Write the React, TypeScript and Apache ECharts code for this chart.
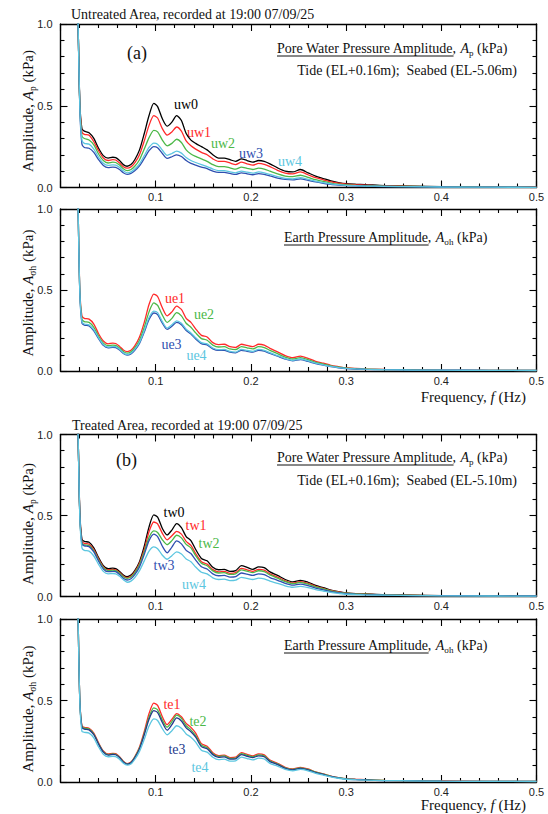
import React, { useEffect, useRef } from "react";
import * as echarts from "echarts";

// ---- data ----
const FREQ = [0.0175, 0.0185, 0.0203, 0.0225, 0.025, 0.03, 0.035, 0.04, 0.045, 0.05, 0.055, 0.058, 0.062, 0.066, 0.07, 0.074, 0.078, 0.083, 0.088, 0.093, 0.098, 0.102, 0.107, 0.112, 0.117, 0.122, 0.127, 0.132, 0.137, 0.142, 0.148, 0.154, 0.16, 0.166, 0.172, 0.178, 0.184, 0.19, 0.196, 0.202, 0.208, 0.214, 0.22, 0.228, 0.236, 0.244, 0.252, 0.26, 0.268, 0.276, 0.284, 0.292, 0.3, 0.31, 0.32, 0.34, 0.37, 0.4, 0.45, 0.5];

// Panel (a) pore water pressure, untreated
const UW0 = [1.3, 1.0, 0.52, 0.36, 0.345, 0.335, 0.3, 0.24, 0.195, 0.18, 0.185, 0.183, 0.165, 0.14, 0.13, 0.14, 0.17, 0.23, 0.33, 0.44, 0.515, 0.495, 0.42, 0.375, 0.4, 0.44, 0.41, 0.33, 0.29, 0.27, 0.25, 0.23, 0.2, 0.18, 0.18, 0.17, 0.16, 0.175, 0.165, 0.155, 0.165, 0.16, 0.145, 0.12, 0.1, 0.095, 0.11, 0.09, 0.07, 0.055, 0.04, 0.03, 0.023, 0.02, 0.018, 0.012, 0.008, 0.005, 0.003, 0.002];
const UW1 = [1.3, 1.0, 0.51, 0.34, 0.325, 0.32, 0.28, 0.225, 0.18, 0.165, 0.17, 0.168, 0.15, 0.127, 0.118, 0.126, 0.15, 0.2, 0.285, 0.38, 0.44, 0.425, 0.36, 0.32, 0.34, 0.37, 0.345, 0.285, 0.255, 0.235, 0.215, 0.2, 0.175, 0.16, 0.16, 0.15, 0.14, 0.155, 0.145, 0.137, 0.147, 0.142, 0.128, 0.105, 0.088, 0.083, 0.095, 0.078, 0.06, 0.047, 0.034, 0.026, 0.02, 0.017, 0.015, 0.01, 0.007, 0.004, 0.003, 0.002];
const UW2 = [1.3, 1.0, 0.5, 0.315, 0.3, 0.29, 0.26, 0.205, 0.165, 0.15, 0.155, 0.153, 0.137, 0.115, 0.103, 0.11, 0.13, 0.17, 0.235, 0.305, 0.35, 0.34, 0.29, 0.255, 0.27, 0.295, 0.275, 0.23, 0.205, 0.19, 0.175, 0.16, 0.14, 0.128, 0.128, 0.12, 0.112, 0.125, 0.117, 0.11, 0.118, 0.113, 0.1, 0.083, 0.07, 0.066, 0.075, 0.062, 0.048, 0.037, 0.027, 0.02, 0.016, 0.013, 0.011, 0.008, 0.006, 0.004, 0.002, 0.001];
const UW3 = [1.3, 1.0, 0.48, 0.265, 0.245, 0.24, 0.215, 0.17, 0.135, 0.122, 0.125, 0.123, 0.11, 0.09, 0.08, 0.086, 0.102, 0.132, 0.178, 0.225, 0.25, 0.243, 0.208, 0.178, 0.188, 0.2, 0.19, 0.165, 0.148, 0.137, 0.125, 0.115, 0.1, 0.092, 0.092, 0.086, 0.08, 0.09, 0.084, 0.078, 0.085, 0.08, 0.071, 0.058, 0.05, 0.047, 0.053, 0.044, 0.034, 0.026, 0.019, 0.015, 0.012, 0.01, 0.008, 0.006, 0.004, 0.003, 0.002, 0.001];
const UW4 = [1.3, 1.0, 0.49, 0.29, 0.27, 0.265, 0.235, 0.185, 0.148, 0.135, 0.138, 0.137, 0.123, 0.102, 0.09, 0.096, 0.113, 0.145, 0.195, 0.245, 0.272, 0.265, 0.228, 0.197, 0.208, 0.222, 0.21, 0.183, 0.165, 0.153, 0.14, 0.128, 0.113, 0.103, 0.103, 0.096, 0.09, 0.1, 0.094, 0.088, 0.095, 0.09, 0.08, 0.066, 0.056, 0.053, 0.06, 0.05, 0.039, 0.03, 0.022, 0.017, 0.013, 0.011, 0.009, 0.007, 0.005, 0.003, 0.002, 0.001];

// Panel (a) earth pressure, untreated
const UE1 = [1.3, 1.0, 0.5, 0.34, 0.325, 0.32, 0.29, 0.23, 0.185, 0.168, 0.172, 0.17, 0.152, 0.13, 0.12, 0.128, 0.155, 0.21, 0.3, 0.41, 0.475, 0.46, 0.39, 0.34, 0.365, 0.4, 0.38, 0.325, 0.3, 0.26, 0.22, 0.21, 0.175, 0.163, 0.165, 0.15, 0.145, 0.165, 0.158, 0.15, 0.165, 0.16, 0.14, 0.118, 0.095, 0.082, 0.092, 0.078, 0.06, 0.048, 0.035, 0.027, 0.02, 0.016, 0.013, 0.01, 0.008, 0.006, 0.004, 0.003];
const UE2 = [1.3, 1.0, 0.49, 0.32, 0.305, 0.3, 0.27, 0.215, 0.172, 0.157, 0.16, 0.158, 0.142, 0.12, 0.11, 0.118, 0.142, 0.19, 0.27, 0.365, 0.42, 0.405, 0.345, 0.3, 0.325, 0.36, 0.34, 0.295, 0.27, 0.235, 0.2, 0.19, 0.16, 0.148, 0.15, 0.136, 0.132, 0.15, 0.143, 0.136, 0.15, 0.145, 0.127, 0.107, 0.086, 0.074, 0.083, 0.07, 0.054, 0.043, 0.031, 0.024, 0.018, 0.014, 0.012, 0.009, 0.007, 0.005, 0.004, 0.003];
const UE3 = [1.3, 1.0, 0.48, 0.295, 0.283, 0.278, 0.248, 0.2, 0.158, 0.143, 0.146, 0.145, 0.13, 0.108, 0.098, 0.106, 0.128, 0.17, 0.24, 0.318, 0.358, 0.348, 0.295, 0.257, 0.276, 0.3, 0.286, 0.25, 0.228, 0.198, 0.169, 0.161, 0.137, 0.127, 0.128, 0.116, 0.112, 0.128, 0.122, 0.116, 0.128, 0.123, 0.108, 0.091, 0.074, 0.063, 0.071, 0.059, 0.046, 0.036, 0.027, 0.02, 0.015, 0.012, 0.01, 0.008, 0.006, 0.005, 0.004, 0.003];
const UE4 = [1.3, 1.0, 0.485, 0.305, 0.29, 0.285, 0.255, 0.205, 0.163, 0.148, 0.151, 0.15, 0.134, 0.112, 0.102, 0.11, 0.133, 0.177, 0.25, 0.33, 0.37, 0.36, 0.305, 0.265, 0.285, 0.31, 0.295, 0.258, 0.235, 0.205, 0.175, 0.167, 0.142, 0.132, 0.133, 0.121, 0.117, 0.133, 0.127, 0.121, 0.133, 0.128, 0.113, 0.095, 0.077, 0.066, 0.074, 0.062, 0.048, 0.038, 0.028, 0.021, 0.016, 0.013, 0.011, 0.008, 0.006, 0.005, 0.004, 0.003];

// Panel (b) pore water pressure, treated
const TW0 = [1.3, 1.0, 0.52, 0.355, 0.34, 0.335, 0.3, 0.24, 0.19, 0.172, 0.175, 0.172, 0.155, 0.132, 0.122, 0.132, 0.16, 0.215, 0.31, 0.43, 0.504, 0.49, 0.42, 0.38, 0.41, 0.45, 0.425, 0.37, 0.345, 0.29, 0.235, 0.22, 0.18, 0.165, 0.167, 0.155, 0.16, 0.19, 0.18, 0.168, 0.183, 0.178, 0.152, 0.13, 0.105, 0.09, 0.1, 0.088, 0.068, 0.055, 0.04, 0.03, 0.023, 0.018, 0.016, 0.011, 0.008, 0.006, 0.004, 0.003];
const TW1 = [1.3, 1.0, 0.51, 0.34, 0.328, 0.323, 0.29, 0.232, 0.183, 0.165, 0.168, 0.165, 0.148, 0.126, 0.116, 0.125, 0.152, 0.205, 0.29, 0.4, 0.46, 0.448, 0.39, 0.35, 0.375, 0.402, 0.385, 0.34, 0.315, 0.265, 0.215, 0.2, 0.166, 0.152, 0.155, 0.143, 0.147, 0.173, 0.165, 0.155, 0.168, 0.163, 0.14, 0.12, 0.097, 0.083, 0.092, 0.081, 0.063, 0.05, 0.037, 0.028, 0.021, 0.017, 0.015, 0.01, 0.007, 0.005, 0.004, 0.003];
const TW2 = [1.3, 1.0, 0.5, 0.33, 0.318, 0.314, 0.282, 0.225, 0.178, 0.16, 0.163, 0.16, 0.144, 0.122, 0.112, 0.12, 0.146, 0.196, 0.275, 0.365, 0.405, 0.395, 0.35, 0.32, 0.345, 0.378, 0.362, 0.322, 0.3, 0.252, 0.205, 0.19, 0.158, 0.145, 0.147, 0.136, 0.14, 0.164, 0.156, 0.147, 0.159, 0.154, 0.133, 0.113, 0.092, 0.079, 0.087, 0.076, 0.059, 0.047, 0.035, 0.026, 0.02, 0.016, 0.014, 0.01, 0.007, 0.005, 0.004, 0.003];
const TW3 = [1.3, 1.0, 0.5, 0.325, 0.312, 0.308, 0.275, 0.218, 0.17, 0.153, 0.155, 0.153, 0.136, 0.113, 0.102, 0.11, 0.135, 0.183, 0.26, 0.345, 0.385, 0.37, 0.31, 0.27, 0.305, 0.343, 0.325, 0.285, 0.265, 0.225, 0.183, 0.17, 0.14, 0.128, 0.13, 0.12, 0.123, 0.145, 0.138, 0.13, 0.14, 0.135, 0.117, 0.1, 0.081, 0.07, 0.077, 0.067, 0.052, 0.041, 0.03, 0.023, 0.017, 0.014, 0.012, 0.009, 0.006, 0.005, 0.004, 0.003];
const TW4 = [1.3, 1.0, 0.49, 0.3, 0.285, 0.28, 0.25, 0.198, 0.155, 0.14, 0.142, 0.14, 0.125, 0.104, 0.088, 0.095, 0.117, 0.16, 0.22, 0.28, 0.306, 0.295, 0.255, 0.23, 0.252, 0.275, 0.262, 0.232, 0.215, 0.182, 0.15, 0.14, 0.115, 0.105, 0.107, 0.098, 0.101, 0.118, 0.112, 0.105, 0.113, 0.109, 0.095, 0.081, 0.066, 0.057, 0.063, 0.055, 0.043, 0.034, 0.025, 0.019, 0.014, 0.012, 0.01, 0.008, 0.006, 0.004, 0.003, 0.002];

// Panel (b) earth pressure, treated
const TE1 = [1.3, 1.0, 0.5, 0.345, 0.335, 0.33, 0.3, 0.24, 0.19, 0.172, 0.176, 0.174, 0.155, 0.128, 0.113, 0.123, 0.155, 0.215, 0.31, 0.42, 0.484, 0.47, 0.4, 0.352, 0.385, 0.42, 0.4, 0.36, 0.335, 0.3, 0.235, 0.22, 0.18, 0.162, 0.165, 0.15, 0.152, 0.18, 0.17, 0.16, 0.172, 0.166, 0.135, 0.115, 0.09, 0.08, 0.09, 0.08, 0.062, 0.05, 0.036, 0.027, 0.02, 0.017, 0.015, 0.01, 0.008, 0.006, 0.004, 0.003];
const TE2 = [1.3, 1.0, 0.5, 0.338, 0.33, 0.325, 0.294, 0.235, 0.186, 0.168, 0.172, 0.17, 0.152, 0.125, 0.111, 0.12, 0.151, 0.208, 0.298, 0.398, 0.455, 0.443, 0.38, 0.336, 0.37, 0.41, 0.39, 0.345, 0.32, 0.285, 0.225, 0.212, 0.174, 0.157, 0.16, 0.145, 0.147, 0.174, 0.164, 0.155, 0.166, 0.16, 0.13, 0.111, 0.087, 0.077, 0.087, 0.077, 0.06, 0.048, 0.035, 0.026, 0.019, 0.016, 0.014, 0.01, 0.007, 0.005, 0.004, 0.003];
const TE3 = [1.3, 1.0, 0.5, 0.335, 0.325, 0.32, 0.29, 0.232, 0.183, 0.165, 0.169, 0.167, 0.15, 0.123, 0.109, 0.118, 0.148, 0.203, 0.29, 0.385, 0.438, 0.426, 0.365, 0.318, 0.352, 0.393, 0.374, 0.332, 0.308, 0.275, 0.217, 0.204, 0.168, 0.151, 0.154, 0.14, 0.142, 0.168, 0.158, 0.15, 0.16, 0.155, 0.125, 0.107, 0.084, 0.074, 0.084, 0.074, 0.058, 0.046, 0.034, 0.025, 0.018, 0.015, 0.013, 0.009, 0.007, 0.005, 0.004, 0.003];
const TE4 = [1.3, 1.0, 0.49, 0.31, 0.305, 0.3, 0.27, 0.215, 0.17, 0.155, 0.158, 0.156, 0.14, 0.115, 0.103, 0.111, 0.138, 0.188, 0.262, 0.343, 0.387, 0.377, 0.327, 0.29, 0.315, 0.345, 0.33, 0.295, 0.275, 0.245, 0.195, 0.183, 0.152, 0.137, 0.14, 0.128, 0.13, 0.152, 0.144, 0.136, 0.146, 0.141, 0.114, 0.098, 0.077, 0.068, 0.077, 0.068, 0.053, 0.042, 0.031, 0.023, 0.017, 0.014, 0.012, 0.009, 0.007, 0.005, 0.004, 0.003];

const X_TICKS = [0, 0.1, 0.2, 0.3, 0.4, 0.5];
const Y_TICKS = [0, 0.5, 1.0];

const BLACK = "#000000";
const RED = "#ff2a2a";
const GREEN = "#4cb848";
const BLUE = "#2f4fb0";
const NAVY = "#24398c";
const CYAN = "#5cc6e0";

const SERIF = "'Liberation Serif', 'Times New Roman', serif";
const SANS = "'Liberation Sans', Arial, sans-serif";

type PanelSeries = { name: string; data: number[]; color: string; lx: number; ly: number };

const PANELS: { top: number; height: number; series: PanelSeries[] }[] = [
  {
    top: 24, height: 163.5,
    series: [
      { name: "uw0", data: UW0, color: BLACK, lx: 186, ly: 104 },
      { name: "uw1", data: UW1, color: RED, lx: 199, ly: 132 },
      { name: "uw2", data: UW2, color: GREEN, lx: 223, ly: 143 },
      { name: "uw3", data: UW3, color: BLUE, lx: 251, ly: 153 },
      { name: "uw4", data: UW4, color: CYAN, lx: 290, ly: 161 },
    ],
  },
  {
    top: 209, height: 162,
    series: [
      { name: "ue1", data: UE1, color: RED, lx: 175, ly: 298 },
      { name: "ue2", data: UE2, color: GREEN, lx: 204, ly: 314 },
      { name: "ue3", data: UE3, color: BLUE, lx: 171.5, ly: 344 },
      { name: "ue4", data: UE4, color: CYAN, lx: 196.5, ly: 355 },
    ],
  },
  {
    top: 434.5, height: 162,
    series: [
      { name: "tw0", data: TW0, color: BLACK, lx: 174, ly: 512 },
      { name: "tw1", data: TW1, color: RED, lx: 196, ly: 525 },
      { name: "tw2", data: TW2, color: GREEN, lx: 209, ly: 543 },
      { name: "tw3", data: TW3, color: BLUE, lx: 164, ly: 565 },
      { name: "uw4", data: TW4, color: CYAN, lx: 194, ly: 584 },
    ],
  },
  {
    top: 619, height: 163,
    series: [
      { name: "te1", data: TE1, color: RED, lx: 172, ly: 704 },
      { name: "te2", data: TE2, color: GREEN, lx: 198, ly: 721 },
      { name: "te3", data: TE3, color: NAVY, lx: 177, ly: 749 },
      { name: "te4", data: TE4, color: CYAN, lx: 200, ly: 767 },
    ],
  },
];

const GRID_LEFT = 60.5;
const GRID_WIDTH = 476;

function measure(text: string, font: string): number {
  const c = document.createElement("canvas").getContext("2d");
  if (!c) return text.length * 7;
  c.font = font;
  return c.measureText(text).width;
}

export default function App() {
  const ref = useRef<HTMLDivElement>(null);

  useEffect(() => {
    document.body.style.margin = "0";
    if (!ref.current) return;
    const chart = echarts.init(ref.current, undefined, { renderer: "svg" });

    const grids: any[] = [];
    const xAxes: any[] = [];
    const yAxes: any[] = [];
    const series: any[] = [];
    const graphics: any[] = [];

    const lineStyle = { color: "#000", width: 1.4 };

    PANELS.forEach((p, gi) => {
      grids.push({ left: GRID_LEFT, top: p.top, width: GRID_WIDTH, height: p.height });
      const baseX = {
        type: "value", gridIndex: gi, min: X_TICKS[0], max: X_TICKS[X_TICKS.length - 1], interval: 0.1,
        axisLine: { show: true, onZero: false, lineStyle },
        axisTick: { show: true, inside: true, length: 7, lineStyle: { color: "#000", width: 1.1 } },
        minorTick: { show: true, splitNumber: 5, length: 4, lineStyle: { color: "#000", width: 1.1 } },
        splitLine: { show: false },
        minorSplitLine: { show: false },
      };
      xAxes.push({
        ...baseX, position: "bottom",
        axisLabel: {
          show: true, margin: 4, fontFamily: SANS, fontSize: 11, color: "#222",
          formatter: (v: number) => (v === 0 ? "" : v.toFixed(1)),
        },
      });
      xAxes.push({ ...baseX, position: "top", axisLabel: { show: false } });
      const baseY = {
        type: "value", gridIndex: gi, min: Y_TICKS[0], max: Y_TICKS[Y_TICKS.length - 1], interval: 0.5,
        axisLine: { show: true, onZero: false, lineStyle },
        axisTick: { show: true, inside: true, length: 7, lineStyle: { color: "#000", width: 1.1 } },
        minorTick: { show: true, splitNumber: 5, length: 4, lineStyle: { color: "#000", width: 1.1 } },
        splitLine: { show: false },
        minorSplitLine: { show: false },
      };
      yAxes.push({
        ...baseY, position: "left",
        axisLabel: { show: true, margin: 8, fontFamily: SANS, fontSize: 11, color: "#222", formatter: (v: number) => v.toFixed(1) },
      });
      yAxes.push({ ...baseY, position: "right", axisLabel: { show: false } });

      p.series.forEach((s) => {
        series.push({
          type: "line", name: s.name, xAxisIndex: gi * 2, yAxisIndex: gi * 2,
          data: FREQ.map((f, i) => [f, s.data[i]]),
          showSymbol: false, symbol: "none", smooth: 0.25, clip: true,
          lineStyle: { color: s.color, width: 1.3 },
          z: 2,
        });
        graphics.push({
          type: "text", x: s.lx, y: s.ly,
          style: { text: s.name, fill: s.color, font: `14px ${SERIF}`, align: "center", verticalAlign: "middle" },
        });
      });
    });

    const serifText = (text: string, x: number, y: number, size: number, align = "left") => ({
      type: "text", x, y,
      style: { text, fill: "#111", font: `${size}px ${SERIF}`, align, verticalAlign: "middle" },
    });

    const rich = {
      n: { fontFamily: SERIF, fontSize: 14, lineHeight: 18, fill: "#111", color: "#111" },
      i: { fontFamily: SERIF, fontSize: 14, lineHeight: 18, fontStyle: "italic", fill: "#111", color: "#111" },
      s: { fontFamily: SERIF, fontSize: 9, lineHeight: 11, verticalAlign: "bottom", fill: "#111", color: "#111" },
      ni: { fontFamily: SERIF, fontSize: 15, lineHeight: 19, fill: "#111", color: "#111" },
      ii: { fontFamily: SERIF, fontSize: 15, lineHeight: 19, fontStyle: "italic", fill: "#111", color: "#111" },
      si: { fontFamily: SERIF, fontSize: 9.5, lineHeight: 11, verticalAlign: "bottom", fill: "#111", color: "#111" },
    };

    const richText = (text: string, x: number, y: number, align = "left", rotation = 0) => ({
      type: "text", x, y, rotation,
      style: { text, rich, align, verticalAlign: "middle", fill: "#111" },
    });

    const uWidthPore = measure("Pore Water Pressure Amplitude", `14px ${SERIF}`);
    const uWidthEarth = measure("Earth Pressure Amplitude", `14px ${SERIF}`);

    const underline = (x: number, y: number, w: number) => ({
      type: "line", shape: { x1: x, y1: y, x2: x + w, y2: y }, style: { stroke: "#111", lineWidth: 1 },
    });

    // Panel (a) annotations
    graphics.push(serifText("Untreated Area, recorded at 19:00 07/09/25", 71, 14, 14));
    graphics.push(serifText("(a)", 137, 53, 18, "center"));
    graphics.push(richText("{n|Pore Water Pressure Amplitude, }{i|A}{s|p}{n| (kPa)}", 277, 48));
    graphics.push(underline(277, 56, uWidthPore));
    graphics.push(serifText("Tide (EL+0.16m);  Seabed (EL-5.06m)", 517, 70, 14, "right"));
    graphics.push(richText("{ni|Amplitude, }{ii|A}{si|p}{ni| (kPa)}", 28, 111, "center", Math.PI / 2));

    graphics.push(richText("{n|Earth Pressure Amplitude, }{i|A}{s|σh}{n| (kPa)}", 284, 237));
    graphics.push(underline(284, 245, uWidthEarth));
    graphics.push(richText("{ni|Amplitude, }{ii|A}{si|σh}{ni| (kPa)}", 28, 293, "center", Math.PI / 2));
    graphics.push(richText("{ni|Frequency, }{ii|f}{ni| (Hz)}", 526, 397, "right"));

    // Panel (b) annotations
    graphics.push(serifText("Treated Area, recorded at 19:00 07/09/25", 72, 425, 14));
    graphics.push(serifText("(b)", 126.5, 460, 18, "center"));
    graphics.push(richText("{n|Pore Water Pressure Amplitude, }{i|A}{s|p}{n| (kPa)}", 277, 457));
    graphics.push(underline(277, 465, uWidthPore));
    graphics.push(serifText("Tide (EL+0.16m);  Seabed (EL-5.10m)", 517, 480, 14, "right"));
    graphics.push(richText("{ni|Amplitude, }{ii|A}{si|p}{ni| (kPa)}", 28, 524, "center", Math.PI / 2));

    graphics.push(richText("{n|Earth Pressure Amplitude, }{i|A}{s|σh}{n| (kPa)}", 284, 645));
    graphics.push(underline(284, 653, uWidthEarth));
    graphics.push(richText("{ni|Amplitude, }{ii|A}{si|σh}{ni| (kPa)}", 28, 709, "center", Math.PI / 2));
    graphics.push(richText("{ni|Frequency, }{ii|f}{ni| (Hz)}", 526, 805, "right"));

    chart.setOption({
      animation: false,
      backgroundColor: "#ffffff",
      grid: grids,
      xAxis: xAxes,
      yAxis: yAxes,
      series,
      graphic: { elements: graphics },
    });

    return () => chart.dispose();
  }, []);

  return <div ref={ref} style={{ width: 548, height: 814 }} />;
}
